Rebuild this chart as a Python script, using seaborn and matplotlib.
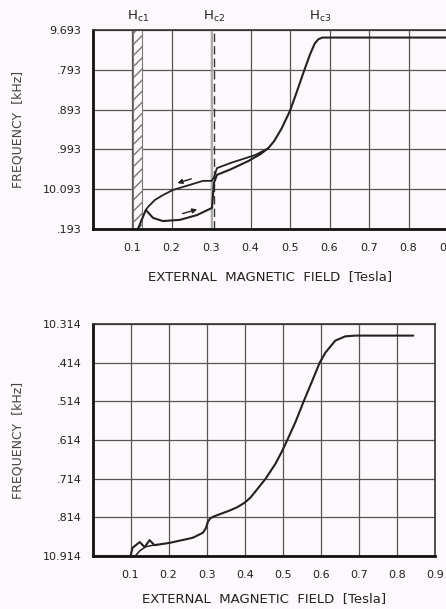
import seaborn as sns
import matplotlib.pyplot as plt
import matplotlib.transforms as mtransforms
import numpy as np

# top panel: hysteresis loop, field up then field down
up_field = [0.115, 0.135, 0.153, 0.178, 0.2215, 0.2645, 0.3025, 0.305, 0.3075, 0.315,
            0.35, 0.395, 0.425, 0.445, 0.46, 0.479, 0.5, 0.517, 0.533, 0.55, 0.5625, 0.572, 0.582, 0.9]
up_freq = [10.193, 10.145, 10.165, 10.173, 10.170, 10.158, 10.140, 10.108, 10.077, 10.057,
           10.043, 10.022, 10.005, 9.990, 9.972, 9.940, 9.896, 9.849, 9.803, 9.756, 9.727, 9.716, 9.712, 9.712]
down_field = [0.445, 0.4125, 0.35, 0.315, 0.308, 0.302, 0.28, 0.2035, 0.178, 0.158, 0.141, 0.135]
down_freq = [9.990, 10.007, 10.027, 10.040, 10.062, 10.072, 10.072, 10.095, 10.108, 10.120, 10.137, 10.145]

# bottom panel
b_field = [0.0, 0.1, 0.105, 0.124, 0.137, 0.15, 0.163, 0.203, 0.263, 0.29, 0.298, 0.303, 0.309, 0.318,
           0.359, 0.38, 0.4, 0.415, 0.429, 0.455, 0.481, 0.497, 0.512, 0.534, 0.555, 0.577, 0.597, 0.612,
           0.638, 0.664, 0.69, 0.843]
b_freq = [10.914, 10.914, 10.893, 10.878, 10.891, 10.873, 10.886, 10.880, 10.867, 10.854, 10.842, 10.826,
          10.817, 10.812, 10.797, 10.788, 10.776, 10.763, 10.746, 10.714, 10.675, 10.645, 10.614, 10.566,
          10.514, 10.462, 10.414, 10.388, 10.357, 10.346, 10.344, 10.344]
b_back_field = [0.17, 0.14, 0.125, 0.112]
b_back_freq = [10.884, 10.890, 10.900, 10.914]

x_ticks = [0.1, 0.2, 0.3, 0.4, 0.5, 0.6, 0.7, 0.8, 0.9]
x_labels = ["0.1", "0.2", "0.3", "0.4", "0.5", "0.6", "0.7", "0.8", "0.9"]
top_yticks = [9.693, 9.793, 9.893, 9.993, 10.093, 10.193]
top_ylabels = ["9.693", ".793", ".893", ".993", "10.093", ".193"]
bot_yticks = [10.314, 10.414, 10.514, 10.614, 10.714, 10.814, 10.914]
bot_ylabels = ["10.314", ".414", ".514", ".614", ".714", ".814", "10.914"]

hc1 = (0.103, 0.126)
hc2 = 0.3075
hc3 = 0.577

sns.set_theme(style="white")
plt.rcParams['font.family'] = ['DejaVu Sans']
bg = "#fcf8fc"
ink = "#222222"

fig = plt.figure(figsize=(4.46, 6.09), dpi=100, facecolor=bg)
ax1 = fig.add_axes([92.5/446, 1-229/609, 355.5/446, 199/609])
ax2 = fig.add_axes([92.5/446, 1-556/609, 342.5/446, 232/609])


def style(ax, yticks, ylabels, xpad):
    ax.set_facecolor(bg)
    ax.set_xlim(0, 0.9)
    ax.set_ylim(yticks[-1], yticks[0])
    ax.set_xticks(x_ticks)
    ax.set_xticklabels(x_labels)
    ax.set_yticks(yticks)
    ax.set_yticklabels(ylabels)
    ax.grid(True, color="#555555", lw=0.9)
    ax.tick_params(length=0, labelsize=8, colors=ink, pad=10)
    ax.tick_params(axis='y', pad=8)
    for s in ["left", "bottom"]:
        ax.spines[s].set_linewidth(2)
        ax.spines[s].set_color("#111111")
    for s in ["top", "right"]:
        ax.spines[s].set_linewidth(1.2)
        ax.spines[s].set_color("#333333")
    ax.set_xlabel("EXTERNAL  MAGNETIC  FIELD  [Tesla]", fontsize=9.5, color=ink, labelpad=xpad)
    ax.set_ylabel("FREQUENCY  [kHz]", fontsize=9, color="#444444", labelpad=13)


style(ax1, top_yticks, top_ylabels, 12)
style(ax2, bot_yticks, bot_ylabels, 9)

# Hc markers
ax1.axvspan(hc1[0], hc1[1], facecolor=bg, edgecolor="#777777", hatch="///", lw=0.8, zorder=2)
ax1.axvline(hc2 - 0.006, color="#aaaaaa", lw=1.5, zorder=2)
ax1.axvline(hc2, color="#333333", lw=1, ls=(0, (6, 3)), zorder=2)
for xpos, lab in [(sum(hc1)/2, r"$\mathrm{H_{c1}}$"), (hc2, r"$\mathrm{H_{c2}}$"), (hc3, r"$\mathrm{H_{c3}}$")]:
    ax1.text(xpos, 1.03, lab, transform=ax1.get_xaxis_transform(), ha="center", va="bottom",
             fontsize=9.5, color=ink)

sns.lineplot(x=up_field, y=up_freq, sort=False, estimator=None, ax=ax1, color=ink, lw=1.5, zorder=3)
sns.lineplot(x=down_field, y=down_freq, sort=False, estimator=None, ax=ax1, color=ink, lw=1.3, zorder=3)

# direction arrows, drawn a little above each branch
above = mtransforms.offset_copy(ax1.transData, fig=fig, x=0, y=4, units="points")
dn_x = down_field[::-1]
dn_y = down_freq[::-1]
ax1.annotate("", xy=(0.215, np.interp(0.215, dn_x, dn_y)), xycoords=above,
             xytext=(0.25, np.interp(0.25, dn_x, dn_y)), textcoords=above,
             arrowprops=dict(arrowstyle="-|>", color=ink, lw=1, shrinkA=0, shrinkB=0, mutation_scale=7))
ax1.annotate("", xy=(0.265, np.interp(0.265, up_field[:7], up_freq[:7])), xycoords=above,
             xytext=(0.228, np.interp(0.228, up_field[:7], up_freq[:7])), textcoords=above,
             arrowprops=dict(arrowstyle="-|>", color=ink, lw=1, shrinkA=0, shrinkB=0, mutation_scale=7))

sns.lineplot(x=b_field, y=b_freq, sort=False, estimator=None, ax=ax2, color=ink, lw=1.5, zorder=3)
sns.lineplot(x=b_back_field, y=b_back_freq, sort=False, estimator=None, ax=ax2, color=ink, lw=1.1, zorder=3)

fig.savefig("out.png", dpi=100, facecolor=bg)
